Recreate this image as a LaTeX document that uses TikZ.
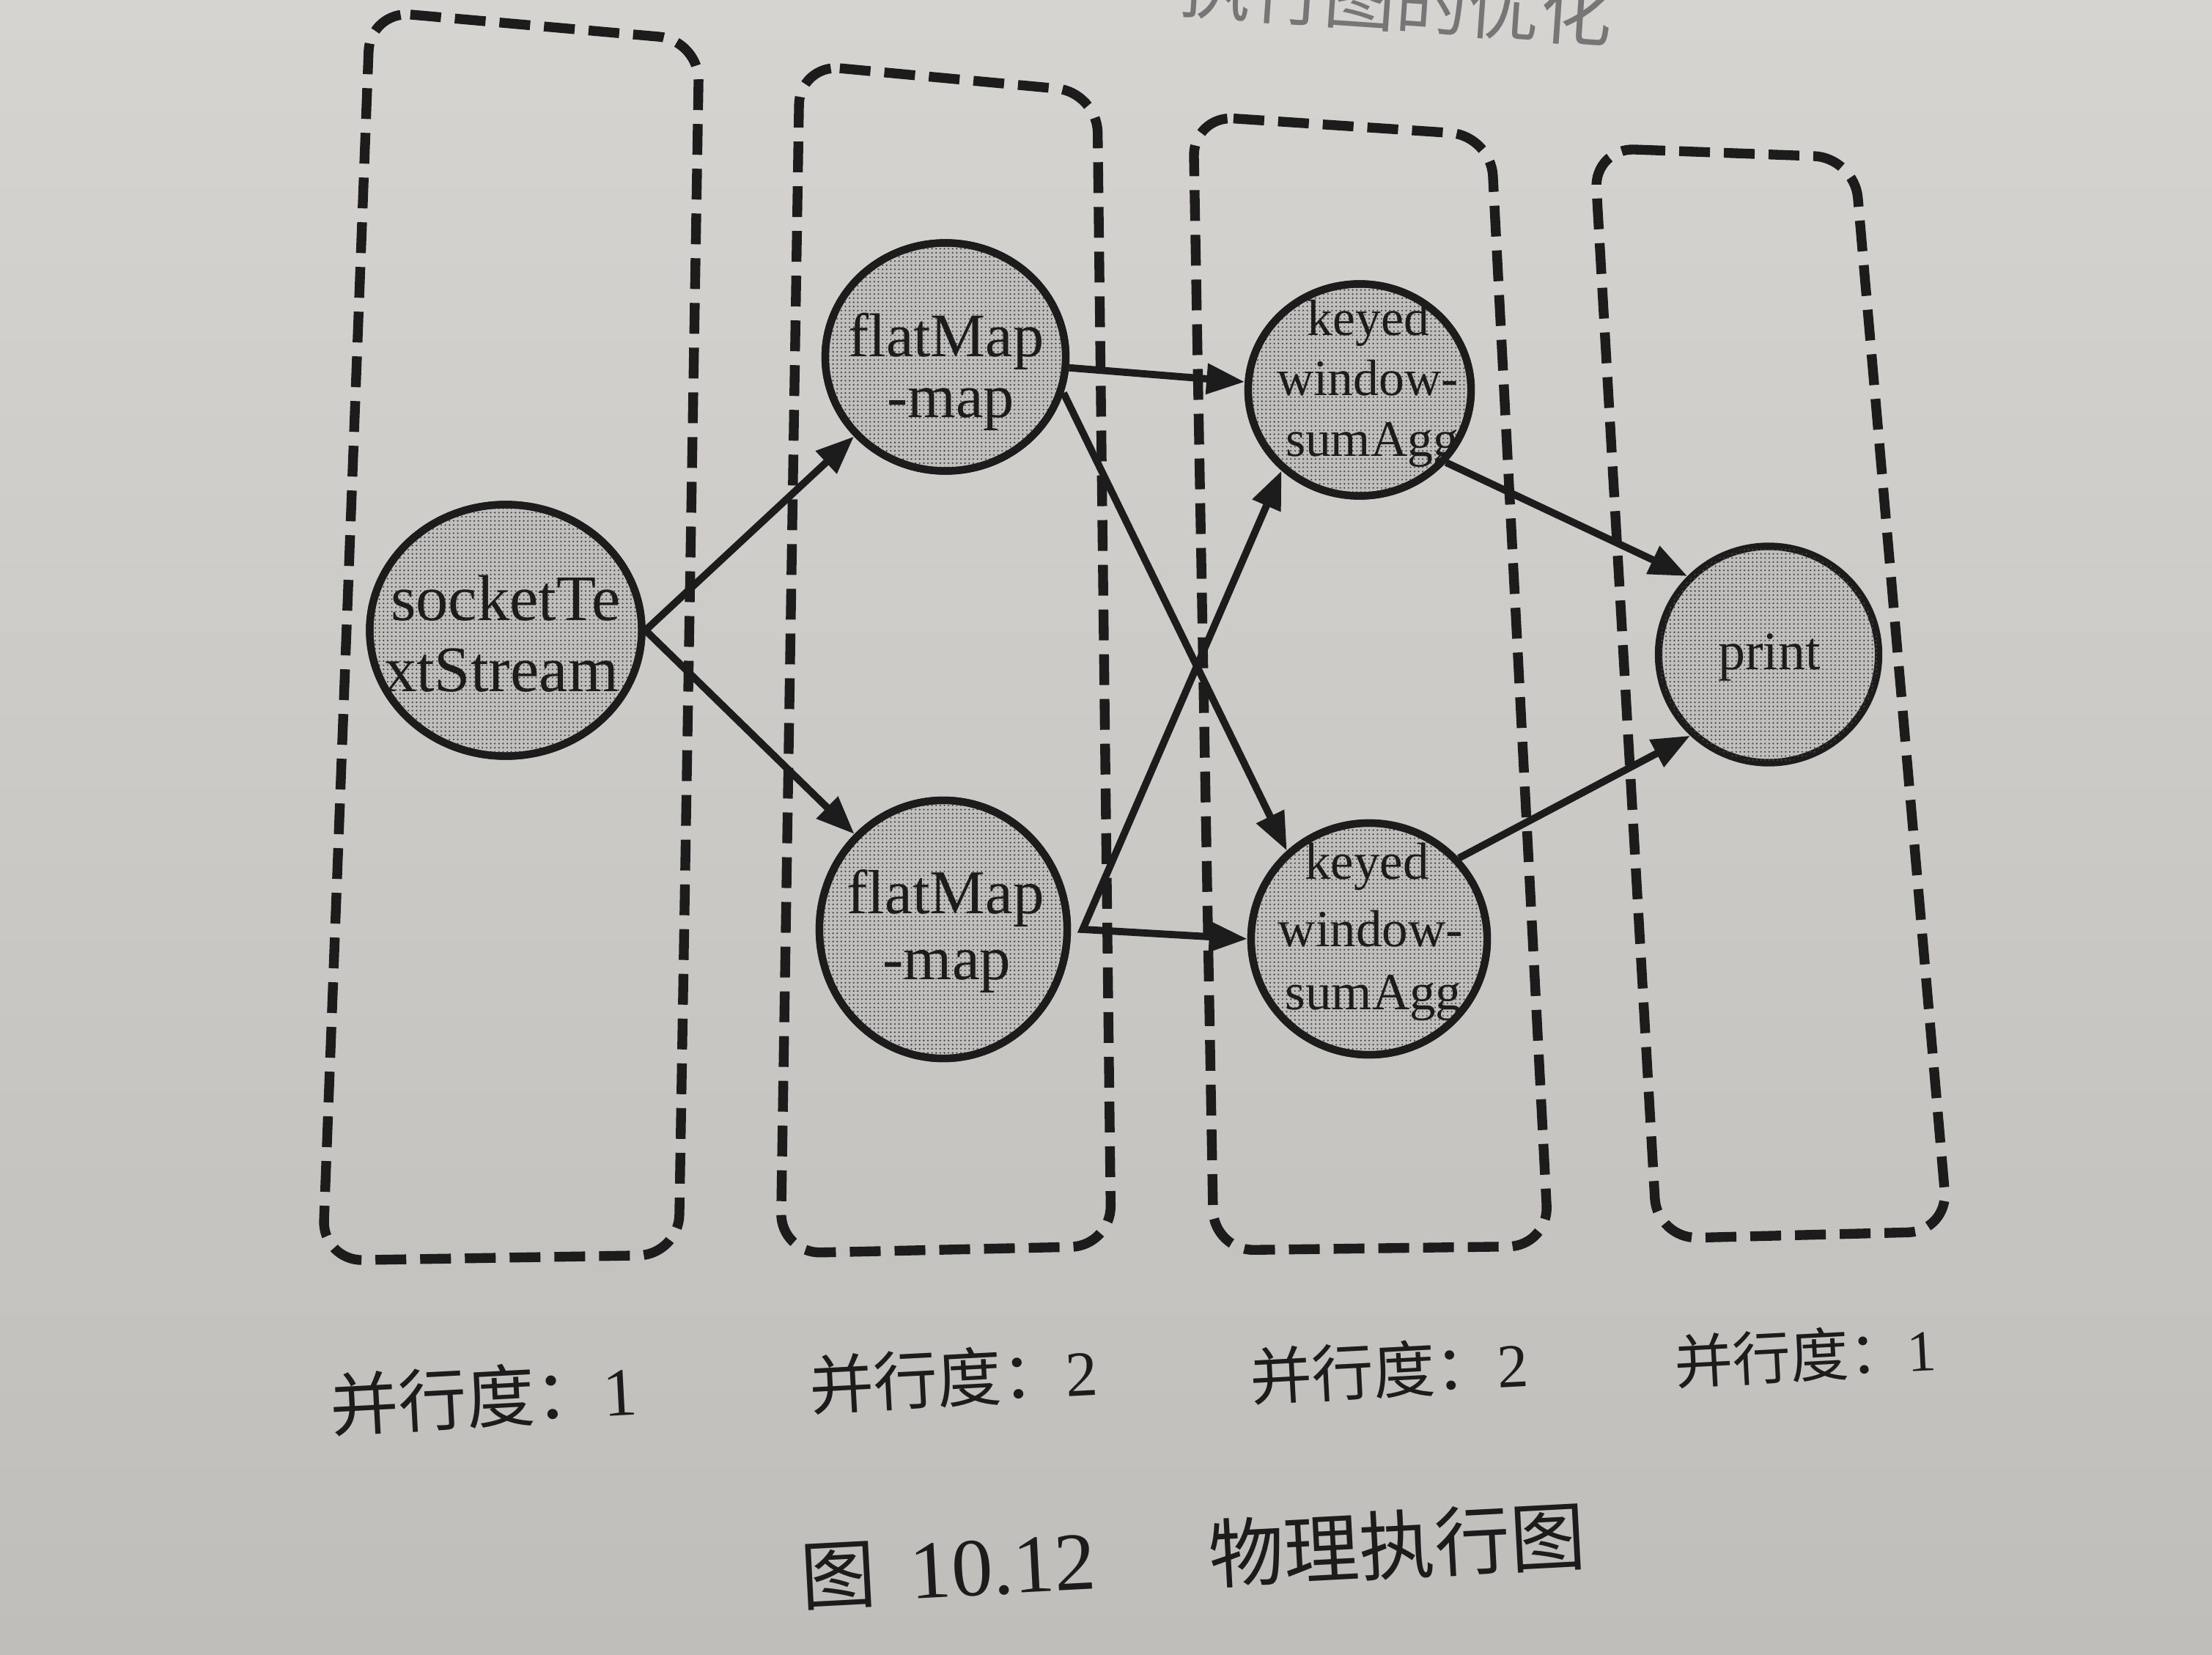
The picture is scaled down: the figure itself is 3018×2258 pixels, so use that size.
\documentclass[tikz,border=0pt]{standalone}
\usepackage{fontspec}
\setmainfont{Liberation Serif}
\newfontfamily\cjk{Noto Sans CJK SC}
\usetikzlibrary{shapes.geometric,arrows.meta,patterns.meta}
\definecolor{bgtop}{RGB}{214,212,209}
\definecolor{bgbot}{RGB}{192,190,187}
\definecolor{ink}{RGB}{28,28,28}
\definecolor{nodefill}{RGB}{192,191,189}
\definecolor{dotc}{RGB}{70,70,70}
\definecolor{header}{RGB}{118,118,118}
\begin{document}
\begin{tikzpicture}[x=0.01cm,y=-0.01cm,
  grpbox/.style={draw=ink, line width=3.8pt, dash pattern=on 0.42cm off 0.19cm, rounded corners=0.55cm},
  opnode/.style={ellipse, draw=ink, fill=nodefill, line width=2.9pt, inner sep=0pt,
     postaction={pattern={Dots[radius=0.36pt, distance=1.6pt]}, pattern color=dotc}},
  ring/.style={draw=ink, line width=2.9pt},
  flow/.style={draw=ink, line width=2.8pt, line join=miter, -{Triangle[length=0.52cm,width=0.4cm]}},
  optext/.style={anchor=base, inner sep=0pt, text=ink},
  para/.style={inner sep=0pt, text=ink, rotate=3}
]
% background
\shade[top color=bgtop, bottom color=bgbot] (0,0) rectangle (3018,2258);
\useasboundingbox (0,0) rectangle (3018,2258);

% partially visible header (cut by the top edge, as in the reference)
\begin{scope}
\clip (0,0) rectangle (3018,2258);
\node[inner sep=0pt, anchor=base east, rotate=-4, text=header, font=\cjk\fontsize{28}{30}\selectfont] (hdr) at (2198,57) {执行图的优化};
\end{scope}

% dashed groups
\draw[grpbox] (505,15) -- (954,55) -- (926,1712) -- (440,1720) -- cycle;
\draw[grpbox] (1091,88) -- (1497,126) -- (1516,1700) -- (1065,1710) -- cycle;
\draw[grpbox] (1628,158) -- (2034,185) -- (2113,1700) -- (1656,1706) -- cycle;
\draw[grpbox] (2175,202) -- (2530,215) -- (2658,1680) -- (2261,1690) -- cycle;

% operator nodes
\node[opnode, minimum width=3.71cm, minimum height=3.43cm] (socket) at (690,860) {};
\node[opnode, minimum width=3.28cm, minimum height=3.11cm] (fm1) at (1290,487) {};
\node[opnode, minimum width=3.38cm, minimum height=3.52cm] (fm2) at (1287,1268) {};
\node[opnode, minimum width=3.04cm, minimum height=2.89cm] (k1) at (1855,532) {};
\node[opnode, minimum width=3.22cm, minimum height=3.16cm] (k2) at (1868,1281) {};
\node[opnode, minimum width=3.00cm, minimum height=2.95cm] (print) at (2413,893) {};

% texts, clipped to the ellipses
\begin{scope}
\clip (socket.center) ellipse [x radius=1.855cm, y radius=1.715cm];
\node[optext, font=\fontsize{25.2}{27}\selectfont] (s1) at (690,846) {socketTe};
\node[optext, font=\fontsize{25.2}{27}\selectfont] (s2) at (684,943) {xtStream};
\end{scope}
\draw[ring] (socket.center) ellipse [x radius=1.855cm, y radius=1.715cm];

\begin{scope}
\clip (fm1.center) ellipse [x radius=1.64cm, y radius=1.555cm];
\node[optext, font=\fontsize{24}{24}\selectfont] (f1a) at (1291,487) {flatMap};
\node[optext, font=\fontsize{24}{24}\selectfont] (f1b) at (1297,570) {-map};
\end{scope}
\draw[ring] (fm1.center) ellipse [x radius=1.64cm, y radius=1.555cm];

\begin{scope}
\clip (fm2.center) ellipse [x radius=1.69cm, y radius=1.76cm];
\node[optext, font=\fontsize{24.2}{24}\selectfont] (f2a) at (1290,1246) {flatMap};
\node[optext, font=\fontsize{24.2}{24}\selectfont] (f2b) at (1292,1336) {-map};
\end{scope}
\draw[ring] (fm2.center) ellipse [x radius=1.69cm, y radius=1.76cm];

\begin{scope}
\clip (k1.center) ellipse [x radius=1.52cm, y radius=1.445cm];
\node[optext, font=\fontsize{19.8}{23}\selectfont] (k1a) at (1867,458) {keyed};
\node[optext, font=\fontsize{19.8}{23}\selectfont] (k1b) at (1866,539) {window-};
\node[optext, font=\fontsize{19.8}{23}\selectfont] (k1c) at (1872,623) {sumAgg};
\end{scope}
\draw[ring] (k1.center) ellipse [x radius=1.52cm, y radius=1.445cm];

\begin{scope}
\clip (k2.center) ellipse [x radius=1.61cm, y radius=1.58cm];
\node[optext, font=\fontsize{20.2}{23}\selectfont] (k2a) at (1865,1199) {keyed};
\node[optext, font=\fontsize{20.2}{23}\selectfont] (k2b) at (1870,1291) {window-};
\node[optext, font=\fontsize{20.2}{23}\selectfont] (k2c) at (1874,1377) {sumAgg};
\end{scope}
\draw[ring] (k2.center) ellipse [x radius=1.61cm, y radius=1.58cm];

\node[optext, font=\fontsize{21}{23}\selectfont] (pt) at (2414,913) {print};

% connectors
\draw[flow] (socket.east) -- (fm1.221);
\draw[flow] (socket.east) -- (fm2.133);
\draw[flow] (fm1.-5) -- (k1.176);
\draw[flow] (fm1.-17) -- (k2.133);
\coordinate (fm2out) at ([xshift=0.16cm]fm2.east);
\draw[flow, {Triangle[length=0.52cm,width=0.4cm]}-{Triangle[length=0.52cm,width=0.4cm]}] (k1.226) -- (fm2out) -- (k2.west);
\draw[flow] (k1.-40) -- (print.136);
\draw[flow] (k2.42) -- (print.226);

% parallelism labels
\node[para, font=\fontsize{26.5}{28}\selectfont] (p1) at (660,1906) {{\cjk 并行度：}1};
\node[para, font=\fontsize{24.9}{27}\selectfont] (p2) at (1301,1880) {{\cjk 并行度：}2};
\node[para, font=\fontsize{24}{26}\selectfont] (p3) at (1895,1869) {{\cjk 并行度：}2};
\node[para, font=\fontsize{22.6}{25}\selectfont] (p4) at (2463,1849) {{\cjk 并行度：}1};

% caption
\node[para, font=\fontsize{29.3}{31}\selectfont] (cap) at (1628,2122) {{\cjk 图}\hspace{0.45em}{\fontsize{32}{34}\selectfont 10.12}\hspace{1.5em}{\cjk 物理执行图}};
\end{tikzpicture}
\end{document}
